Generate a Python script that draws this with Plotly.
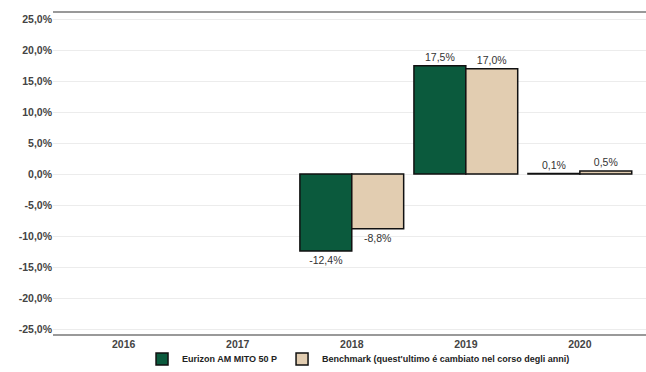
import plotly.graph_objects as go

years = ["2016", "2017", "2018", "2019", "2020"]
fund = [None, None, -12.4, 17.5, 0.1]
benchmark = [None, None, -8.8, 17.0, 0.5]
tick_vals = [25, 20, 15, 10, 5, 0, -5, -10, -15, -20, -25]
tick_text = ["25,0%", "20,0%", "15,0%", "10,0%", "5,0%", "0,0%",
             "-5,0%", "-10,0%", "-15,0%", "-20,0%", "-25,0%"]

FONT = "Liberation Sans, Arial, sans-serif"

fig = go.Figure()
fig.add_trace(go.Bar(
    x=years, y=fund, name="Eurizon AM MITO 50 P",
    marker=dict(color="#0b5a3d", line=dict(color="#111111", width=1.5)),
    texttemplate="%{y:.1f}%", textposition="outside",
    textfont=dict(family=FONT, size=10.5, color="#333333"),
    cliponaxis=False,
))
fig.add_trace(go.Bar(
    x=years, y=benchmark, name="Benchmark (quest'ultimo é cambiato nel corso degli anni)",
    marker=dict(color="#e2cdb1", line=dict(color="#111111", width=1.5)),
    texttemplate="%{y:.1f}%", textposition="outside",
    textfont=dict(family=FONT, size=10.5, color="#333333"),
    cliponaxis=False,
))

fig.update_layout(
    width=646, height=372,
    margin=dict(l=53, r=0, t=13, b=38, autoexpand=False),
    paper_bgcolor="white", plot_bgcolor="white",
    separators=",.",
    barmode="group", bargap=0.09, bargroupgap=0,
    font=dict(family=FONT, size=10.5, color="#444444"),
    showlegend=True,
    legend=dict(orientation="h", xref="container", yref="container",
                x=0.555, xanchor="center", y=0.035, yanchor="middle",
                bgcolor="rgba(0,0,0,0)",
                font=dict(family=FONT, size=9, color="#222222", weight="bold"),
                itemwidth=30, tracegroupgap=0),
    xaxis=dict(
        range=[-0.62, 4.58], type="category", automargin=False,
        showgrid=False, ticks="", showline=True, linecolor="#999999", linewidth=1.5,
        mirror=True,
        tickfont=dict(family=FONT, size=10.5, color="#444444", weight="bold"),
    ),
    yaxis=dict(
        range=[-25.8, 26], tickvals=tick_vals, ticktext=tick_text, automargin=False,
        showgrid=True, gridcolor="#ececec", gridwidth=1,
        zeroline=False, ticks="", showline=False,
        tickfont=dict(family=FONT, size=10.5, color="#444444", weight="bold"),
    ),
)

fig.write_html("out.html")
